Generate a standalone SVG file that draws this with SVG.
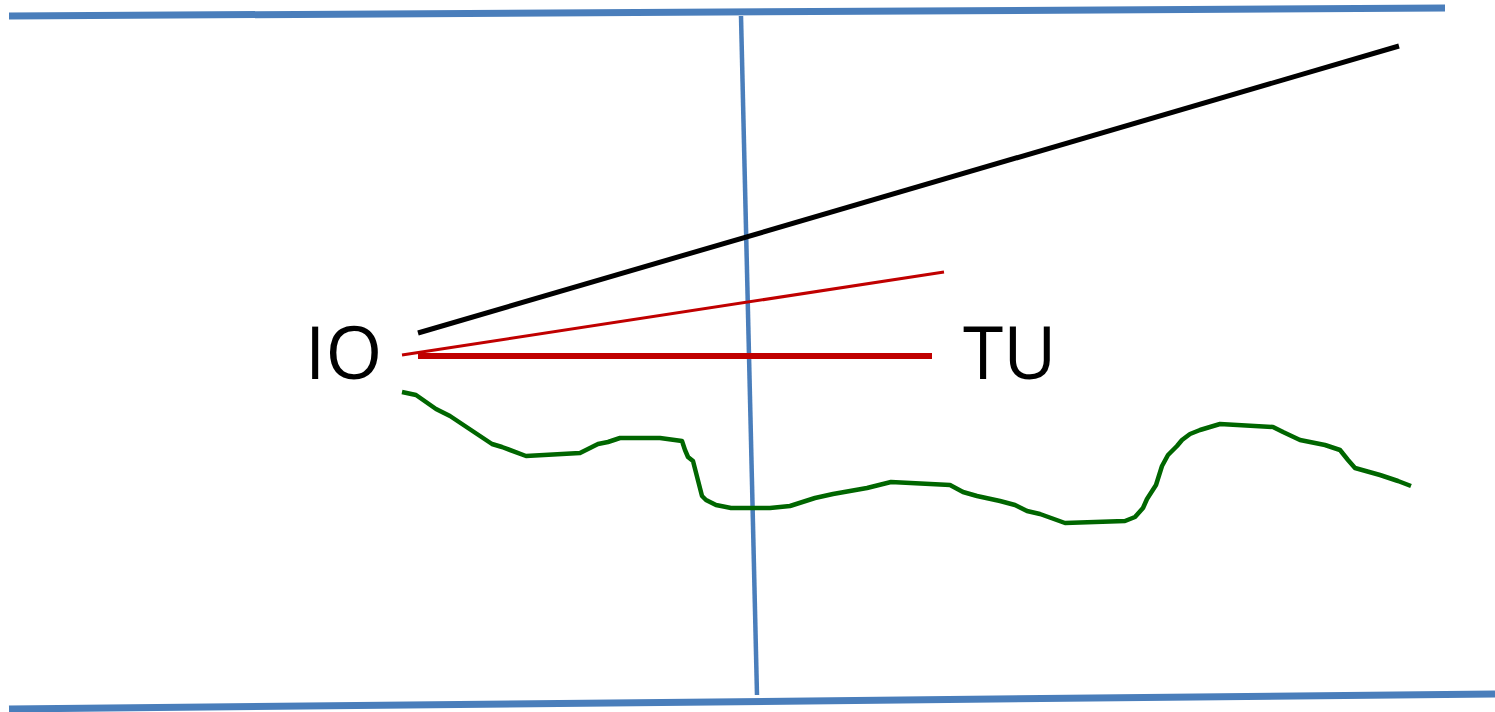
<svg xmlns="http://www.w3.org/2000/svg" width="1495" height="712" viewBox="0 0 1495 712">
<style>
.blue{stroke:#4a7ebb;fill:none}
.lbl{font-family:"Open Sans","DejaVu Sans",sans-serif;font-size:73px;fill:#000}
</style>
<rect width="1495" height="712" fill="#fff"/>
<g id="connectors">
<line class="blue" x1="9" y1="16" x2="1445" y2="8" stroke-width="7"/>
<line class="blue" x1="9" y1="709" x2="1495" y2="694" stroke-width="7"/>
<line class="blue" x1="741" y1="16" x2="757" y2="695" stroke-width="4.5"/>
<line x1="418" y1="333" x2="1399" y2="46" stroke="#000" stroke-width="5"/>
<line x1="402" y1="355" x2="944" y2="272" stroke="#c00000" stroke-width="3"/>
<line x1="418" y1="356" x2="932" y2="356" stroke="#c00000" stroke-width="6"/>
<polyline fill="none" stroke="#006600" stroke-width="4.5" stroke-linejoin="round" points="402,392 416,395 436,409 450,416 468,428 492,444 502,447 526,456 580,453 586,450 598,444 608,442 620,438 660,438 682,441 685,450 688,457 693,461 702,496 706,500 716,505 731,508 770,508 790,506 815,498 833,494 867,488 891,482 950,485 963,492 977,496 1000,501 1015,505 1027,511 1040,514 1065,523 1125,521 1135,517 1143,508 1147,499 1156,485 1162,466 1168,455 1177,446 1182,440 1190,434 1200,430 1220,424 1273,427 1283,432 1300,440 1310,442 1325,445 1340,450 1348,460 1355,468 1380,475 1398,481 1411,486"/>
</g>
<g id="IO"><text class="lbl" x="305" y="379">IO</text></g>
<g id="TU"><text class="lbl" x="963" y="379">TU</text></g>
</svg>
